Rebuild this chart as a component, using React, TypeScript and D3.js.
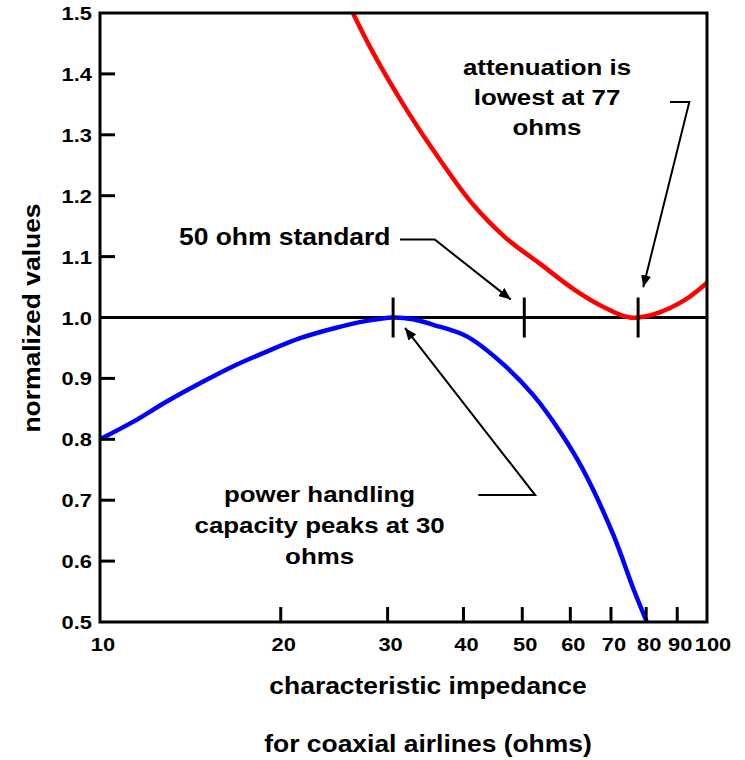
import React from "react";
import * as d3 from "d3";

const W = 745;
const H = 760;

const xTickValues = [10, 20, 30, 40, 50, 60, 70, 80, 90, 100];
const xTickLabels = ["10", "20", "30", "40", "50", "60", "70", "80", "90", "100"];
const yTickValues = [0.5, 0.6, 0.7, 0.8, 0.9, 1.0, 1.1, 1.2, 1.3, 1.4, 1.5];
const yTickLabels = ["0.5", "0.6", "0.7", "0.8", "0.9", "1.0", "1.1", "1.2", "1.3", "1.4", "1.5"];

// power handling capacity (blue)
const powerX = [10, 11.35, 12.88, 14.61, 16.58, 18.82, 21.36, 24.23, 27.5, 30.4, 32.8, 35.4, 40.2, 45.6, 51.7, 57.5, 62.5, 70.1, 75.6, 79.6];
const powerY = [0.8, 0.829, 0.862, 0.892, 0.92, 0.944, 0.966, 0.982, 0.9945, 1.0, 0.997, 0.988, 0.969, 0.928, 0.873, 0.81, 0.75, 0.643, 0.555, 0.5];

// attenuation (red)
const attenX = [26.1, 28.2, 32.0, 36.3, 41.2, 46.7, 53.1, 60.6, 67.9, 74.7, 82.1, 92.0, 100];
const attenY = [1.5, 1.434, 1.341, 1.259, 1.185, 1.13, 1.088, 1.045, 1.016, 1.0, 1.006, 1.029, 1.057];

// marks on the 1.0 reference line
const markerValues = [30.4, 50, 77];

const SX = 1.15;
const FONT = "'Liberation Sans', Arial, Helvetica, sans-serif";

function Label({ x, y, size, anchor = "start", rotate = 0, children }: any) {
  return (
    <g transform={`translate(${x},${y})${rotate ? ` rotate(${rotate})` : ""} scale(${SX},1)`}>
      <text textAnchor={anchor} fontSize={size} fontWeight="bold" fontFamily={FONT} fill="#000">
        {children}
      </text>
    </g>
  );
}

export default function App() {
  const x = d3.scaleLog().domain([10, 100]).range([100, 707]);
  const y = d3.scaleLinear().domain([0.5, 1.5]).range([622, 13]);

  const line = d3
    .line<[number, number]>()
    .x((d) => x(d[0]))
    .y((d) => y(d[1]))
    .curve(d3.curveCatmullRom.alpha(0.5));

  const powerData = powerX.map((v, i) => [v, powerY[i]] as [number, number]);
  const attenData = attenX.map((v, i) => [v, attenY[i]] as [number, number]);

  const leader = (pts: [number, number][]) =>
    d3.line<[number, number]>().x((d) => x(d[0])).y((d) => y(d[1]))(pts) as string;

  const [x0, x1] = x.range();
  const [y0, y1] = y.range();
  const lastX = xTickValues.length - 1;

  return (
    <svg
      width={W}
      height={H}
      style={{ position: "absolute", left: 0, top: 0, display: "block", background: "#fff" }}
    >
      <defs>
        <marker id="ah" viewBox="0 0 12 10" refX="12" refY="5" markerWidth="12" markerHeight="10" markerUnits="userSpaceOnUse" orient="auto">
          <path d="M0,0 L12,5 L0,10 Z" fill="#000" />
        </marker>
      </defs>

      {/* reference line at 1.0 */}
      <line x1={x0} x2={x1} y1={y(1)} y2={y(1)} stroke="#000" strokeWidth={3} />

      {/* curves */}
      <path d={line(attenData) as string} fill="none" stroke="#ff0000" strokeWidth={4.5} />
      <path d={line(powerData) as string} fill="none" stroke="#0000ff" strokeWidth={4.5} />

      {/* markers on the 1.0 line */}
      {markerValues.map((m) => (
        <line key={m} x1={x(m)} x2={x(m)} y1={y(1) - 20} y2={y(1) + 20} stroke="#000" strokeWidth={3} />
      ))}

      {/* frame */}
      <rect x={x0} y={y1} width={x1 - x0} height={y0 - y1} fill="none" stroke="#000" strokeWidth={3} />

      {/* x ticks */}
      {xTickValues.map((v, i) => (
        <g key={v}>
          {i > 0 && i < lastX && (
            <line x1={x(v) - 2} x2={x(v) - 2} y1={y0} y2={y0 - 15} stroke="#000" strokeWidth={3} />
          )}
          <Label x={x(v) + (i === lastX ? 6 : i === 0 ? 3 : 1)} y={y0 + 29} size={19} anchor="middle">
            {xTickLabels[i]}
          </Label>
        </g>
      ))}

      {/* y ticks */}
      {yTickValues.map((v, i) => (
        <g key={v}>
          {i > 0 && i < yTickValues.length - 1 && (
            <line x1={x0} x2={x0 + 15} y1={y(v)} y2={y(v)} stroke="#000" strokeWidth={3} />
          )}
          <Label x={92} y={y(v) + 7} size={19} anchor="end">
            {yTickLabels[i]}
          </Label>
        </g>
      ))}

      {/* axis titles */}
      <Label x={428} y={694} size={23} anchor="middle">characteristic impedance</Label>
      <Label x={428} y={752} size={23} anchor="middle">for coaxial airlines (ohms)</Label>
      <Label x={40} y={318} size={23} anchor="middle" rotate={-90}>normalized values</Label>

      {/* annotation: 50 ohm standard */}
      <Label x={x(30.1)} y={y(1.119)} size={23} anchor="end">50 ohm standard</Label>
      <path
        d={leader([[31.2, 1.128], [35.6, 1.128], [47.5, 1.0296]])}
        fill="none"
        stroke="#000"
        strokeWidth={2}
        markerEnd="url(#ah)"
      />

      {/* annotation: attenuation */}
      <Label x={x(54.5)} y={y(1.398)} size={22.5} anchor="middle">attenuation is</Label>
      <Label x={x(54.5)} y={y(1.398) + 30} size={22.5} anchor="middle">lowest at 77</Label>
      <Label x={x(54.5)} y={y(1.398) + 60} size={22.5} anchor="middle">ohms</Label>
      <path
        d={leader([[86.9, 1.354], [93.5, 1.354], [78.5, 1.0496]])}
        fill="none"
        stroke="#000"
        strokeWidth={2}
        markerEnd="url(#ah)"
      />

      {/* annotation: power handling */}
      <Label x={x(23.0)} y={y(0.697)} size={22.5} anchor="middle">power handling</Label>
      <Label x={x(23.0)} y={y(0.697) + 31} size={22.5} anchor="middle">capacity peaks at 30</Label>
      <Label x={x(23.0)} y={y(0.697) + 62} size={22.5} anchor="middle">ohms</Label>
      <path
        d={leader([[42.0, 0.7085], [52.1, 0.7085], [31.8, 0.9828]])}
        fill="none"
        stroke="#000"
        strokeWidth={2}
        markerEnd="url(#ah)"
      />
    </svg>
  );
}
